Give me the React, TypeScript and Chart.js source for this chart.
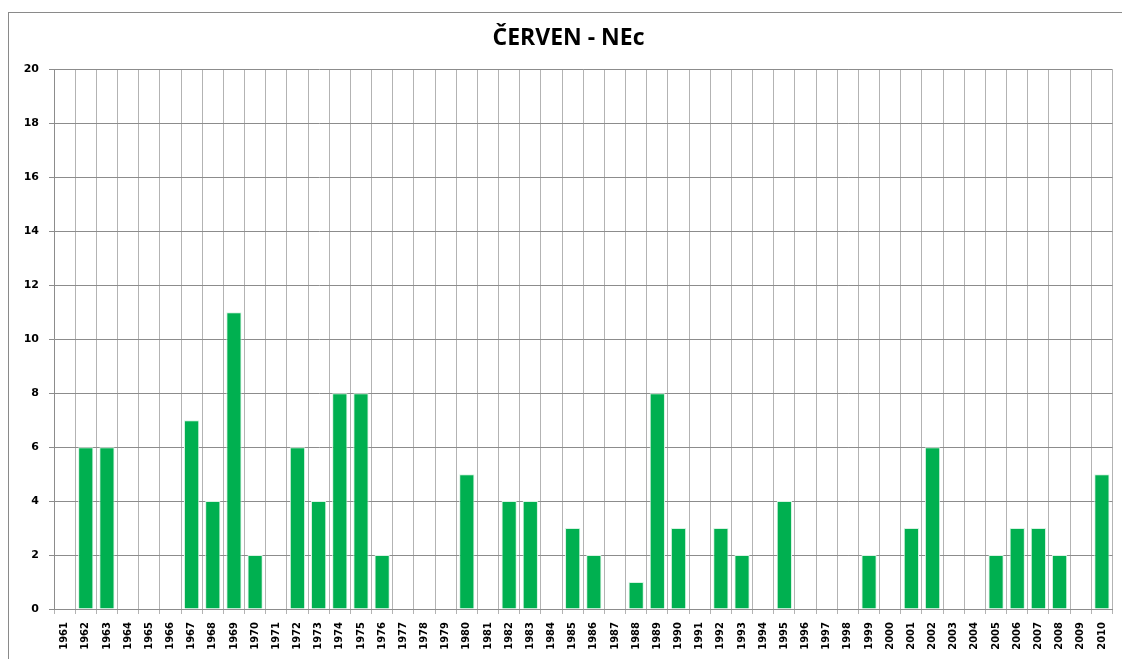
import React, { useEffect, useRef } from "react";
import { Chart, registerables } from "chart.js";

Chart.register(...registerables);

const TITLE = "ČERVEN - NEc";
const YEARS: string[] = [
  "1961","1962","1963","1964","1965","1966","1967","1968","1969","1970",
  "1971","1972","1973","1974","1975","1976","1977","1978","1979","1980",
  "1981","1982","1983","1984","1985","1986","1987","1988","1989","1990",
  "1991","1992","1993","1994","1995","1996","1997","1998","1999","2000",
  "2001","2002","2003","2004","2005","2006","2007","2008","2009","2010",
];
const VALUES: number[] = [
  0, 6, 6, 0, 0, 0, 7, 4, 11, 2,
  0, 6, 4, 8, 8, 2, 0, 0, 0, 5,
  0, 4, 4, 0, 3, 2, 0, 1, 8, 3,
  0, 3, 2, 0, 4, 0, 0, 0, 2, 0,
  3, 6, 0, 0, 2, 3, 3, 2, 0, 5,
];
const Y_MIN = 0;
const Y_MAX = 20;
const Y_STEP = 2;

const W = 1122;
const H = 659;

const frame = {
  id: "frame",
  beforeDraw(chart: any) {
    const ctx = chart.ctx;
    ctx.save();
    ctx.fillStyle = "#ffffff";
    ctx.fillRect(0, 0, W, H);
    ctx.strokeStyle = "#8a8a8a";
    ctx.lineWidth = 1;
    ctx.strokeRect(8.5, 12.5, W + 10, H + 10);
    ctx.restore();
  },
};

export default function App() {
  const ref = useRef<HTMLCanvasElement | null>(null);
  useEffect(() => {
    if (!ref.current) return;
    const chart = new Chart(ref.current, {
      type: "bar",
      data: {
        labels: YEARS,
        datasets: [
          {
            data: VALUES,
            backgroundColor: "#00B050",
            borderColor: "#d6f2e1",
            borderWidth: 1,
            barPercentage: 0.72,
            categoryPercentage: 1,
          },
        ],
      },
      options: {
        responsive: false,
        animation: false,
        layout: { padding: { left: 24, right: 9, top: 0, bottom: 0 } },
        plugins: {
          legend: { display: false },
          tooltip: { enabled: false },
          title: {
            display: true,
            text: TITLE,
            color: "#000000",
            font: { family: "'Open Sans'", size: 23, weight: "bold", lineHeight: 1.2 },
            padding: { top: 25, bottom: 17 },
          },
        },
        scales: {
          x: {
            offset: true,
            grid: {
              offset: true,
              color: "#b3b3b3",
              lineWidth: 1,
              tickLength: 5,
            },
            border: { color: "#8c8c8c" },
            ticks: {
              autoSkip: false,
              maxRotation: 90,
              minRotation: 90,
              padding: 8,
              color: "#000000",
              font: { family: "'DejaVu Sans'", size: 10, weight: "bold" },
            },
            afterFit(scale: any) {
              scale.height = 50;
            },
          },
          y: {
            min: Y_MIN,
            max: Y_MAX,
            grid: { color: "#8c8c8c", lineWidth: 1, tickLength: 5 },
            border: { color: "#8c8c8c" },
            ticks: {
              stepSize: Y_STEP,
              padding: 10,
              color: "#000000",
              font: { family: "'DejaVu Sans'", size: 11, weight: "bold" },
            },
            afterFit(scale: any) {
              scale.width = 30;
            },
          },
        },
      },
      plugins: [frame],
    });
    return () => chart.destroy();
  }, []);
  return (
    <div style={{ position: "absolute", left: 0, top: 0, width: W, height: H }}>
      <canvas ref={ref} width={W} height={H} style={{ width: W, height: H }} />
    </div>
  );
}
